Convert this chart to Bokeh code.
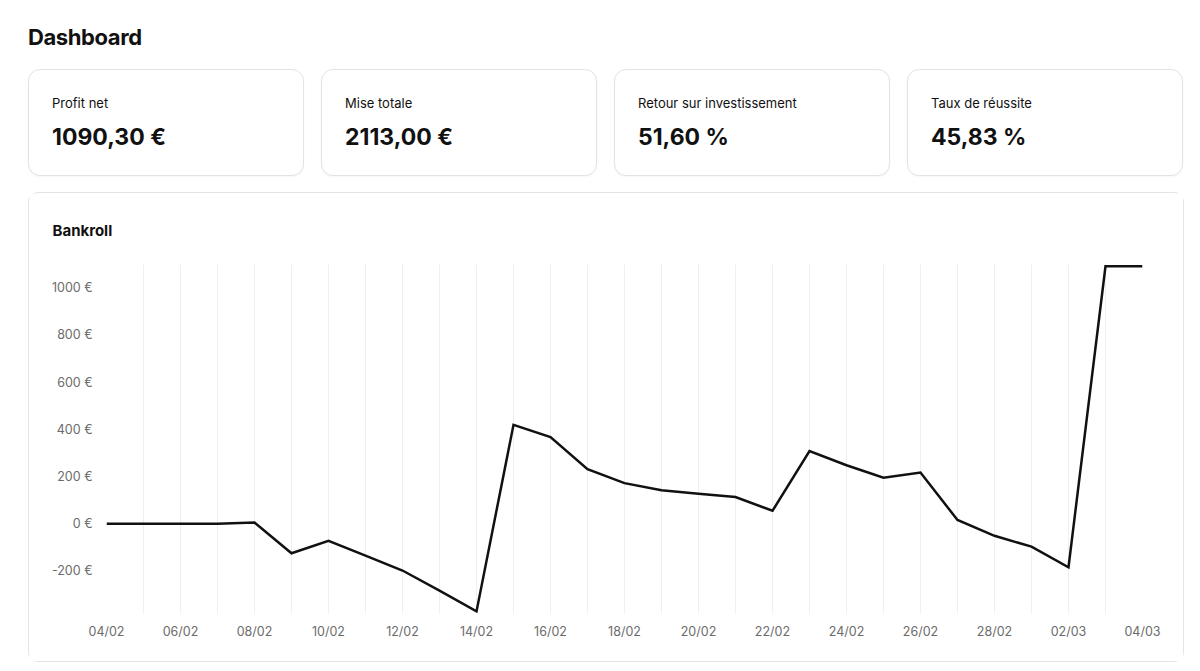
import pandas as pd
from bokeh.plotting import figure
from bokeh.layouts import column
from bokeh.models import Div, Range1d, FixedTicker, PrintfTickFormatter, DatetimeTickFormatter
from bokeh.embed import file_html
from bokeh.resources import INLINE

# ---- data ----
dates = pd.date_range("2025-02-04", "2025-03-04", freq="D")
bankroll = [0, 0, 0, 0, 5, -125, -72, -135, -198, -283, -371,
            419, 367, 231, 172, 142, 127, 113, 55,
            308, 248, 195, 217, 16, -51, -97, -184, 1090.30, 1090.30]
kpi_labels = ["Profit net", "Mise totale", "Retour sur investissement", "Taux de réussite"]
kpi_values = ["1090,30 €", "2113,00 €", "51,60 %", "45,83 %"]
y_ticks = [-200, 0, 200, 400, 600, 800, 1000]

FONT = "Inter"

# ---- header + KPI cards ----
card_left = [28, 321, 614, 907]
cards = ""
for lx, lab, val in zip(card_left, kpi_labels, kpi_values):
    cards += (
        f'<div style="position:absolute;left:{lx}px;top:69px;width:276px;height:107px;'
        'box-sizing:border-box;border:1px solid #e3e3e3;border-radius:12px;'
        'box-shadow:0 1px 2px rgba(0,0,0,0.04);background:#fff;">'
        f'<div style="position:absolute;left:23px;top:24px;font-size:13px;color:#111;">{lab}</div>'
        f'<div style="position:absolute;left:23px;top:51px;font-size:23px;font-weight:700;color:#111;">{val}</div>'
        '</div>'
    )
html = (
    f'<div style="position:relative;width:1200px;height:192px;font-family:{FONT},sans-serif;">'
    '<div style="position:absolute;left:28px;top:22px;font-size:22px;font-weight:700;'
    'letter-spacing:-0.4px;color:#111;">Dashboard</div>'
    + cards + '</div>'
)
header = Div(text=html, width=1200, height=192, margin=0)

# ---- chart ----
p = figure(width=1156, height=470, x_axis_type="datetime", output_backend="svg",
           toolbar_location=None, margin=(0, 0, 0, 28),
           min_border_left=77, min_border_right=43, min_border_top=70, min_border_bottom=50,
           x_range=Range1d(dates[0], dates[-1]), y_range=Range1d(-380, 1098),
           styles={"border": "1px solid #e3e3e3", "border-radius": "10px"})
p.outline_line_color = None
p.background_fill_color = "white"
p.border_fill_color = "white"

p.title.text = "Bankroll"
p.title.align = "left"
p.title.offset = -54
p.title.standoff = 50
p.title.text_line_height = 1.0
p.title.text_font = FONT
p.title.text_font_size = "15px"
p.title.text_font_style = "bold"
p.title.text_color = "#111111"

p.line(dates, bankroll, line_color="#111111", line_width=2.5, line_join="miter")

tick_ms = [d.value // 10**6 for d in dates[::2]]
day_ms = [d.value // 10**6 for d in dates]
p.xaxis.ticker = FixedTicker(ticks=tick_ms)
p.xaxis.formatter = DatetimeTickFormatter(days="%d/%m", months="%d/%m")
p.yaxis.ticker = FixedTicker(ticks=y_ticks)
p.yaxis.formatter = PrintfTickFormatter(format="%d €")

for ax in (p.xaxis, p.yaxis):
    ax.axis_line_color = None
    ax.major_tick_line_color = None
    ax.minor_tick_line_color = None
    ax.major_tick_out = 0
    ax.major_tick_in = 0
    ax.minor_tick_out = 0
    ax.major_label_text_font = FONT
    ax.major_label_text_font_size = "12.5px"
    ax.major_label_text_color = "#6b6b6b"
p.xaxis.major_label_standoff = 10
p.yaxis.major_label_standoff = 14

p.ygrid.grid_line_color = None
p.xgrid.ticker = FixedTicker(ticks=day_ms)
p.xgrid.grid_line_color = "#efefef"
p.xgrid.grid_line_width = 1

layout = column(header, p, spacing=0)
open("out.html", "w").write(file_html(layout, INLINE))
